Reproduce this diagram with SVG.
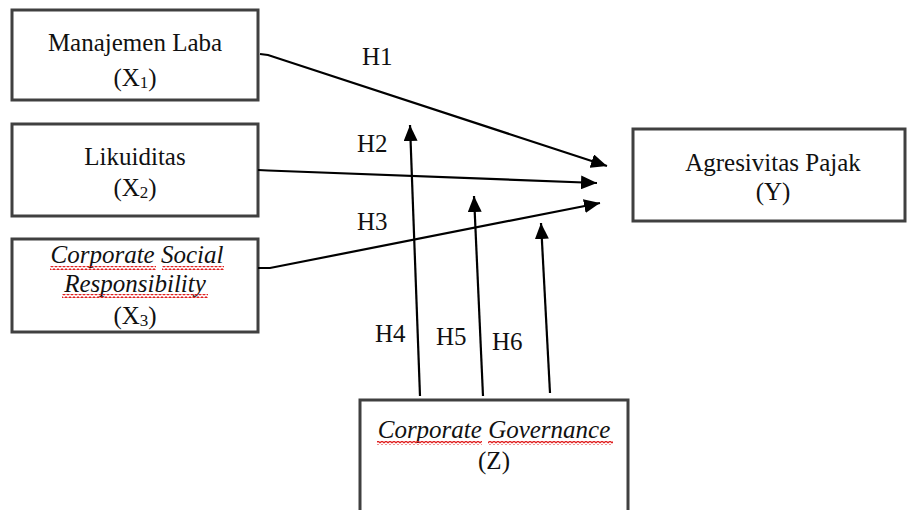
<svg xmlns="http://www.w3.org/2000/svg" width="907" height="510" viewBox="0 0 907 510">
<style>
.box{fill:#fff;stroke:#404040;stroke-width:3}
.t{font-family:"Liberation Serif","Times New Roman",serif;font-size:25px;fill:#111;text-anchor:middle}
.i{font-style:italic}
.lbl{font-family:"Liberation Serif","Times New Roman",serif;font-size:25px;fill:#111}
.c{fill:none;stroke:#000;stroke-width:2.2;marker-end:url(#ah)}
.sq{fill:url(#wave)}
</style>
<defs>
<marker id="ah" markerUnits="userSpaceOnUse" markerWidth="18" markerHeight="14" refX="16" refY="7" orient="auto">
<path d="M0,0 L16,7 L0,14 Z" fill="#000"/>
</marker>
<pattern id="wave" patternUnits="userSpaceOnUse" width="4" height="4">
<path d="M0,3 L2,1 L4,3" fill="none" stroke="#e02020" stroke-width="1.3"/>
</pattern>
</defs>
<g id="node-x1">
<rect class="box" x="12" y="10" width="246" height="90"/>
<text class="t" x="135" y="51">Manajemen Laba</text>
<text class="t" x="135" y="86">(X<tspan font-size="17" dy="2">1</tspan><tspan dy="-2">)</tspan></text>
</g>
<g id="node-x2">
<rect class="box" x="12" y="124" width="246" height="92"/>
<text class="t" x="135" y="165">Likuiditas</text>
<text class="t" x="135" y="196">(X<tspan font-size="17" dy="2">2</tspan><tspan dy="-2">)</tspan></text>
</g>
<g id="node-x3">
<rect class="box" x="12" y="239" width="246" height="93"/>
<text class="t i" x="137" y="263">Corporate Social</text>
<rect class="sq" x="50" y="266" width="106" height="4"/>
<rect class="sq" x="162" y="266" width="62" height="4"/>
<text class="t i" x="135" y="292">Responsibility</text>
<rect class="sq" x="62" y="294" width="146" height="4"/>
<text class="t" x="135" y="324">(X<tspan font-size="17" dy="2">3</tspan><tspan dy="-2">)</tspan></text>
</g>
<g id="node-y">
<rect class="box" x="633" y="129" width="272" height="92"/>
<text class="t" x="773" y="171">Agresivitas Pajak</text>
<text class="t" x="773" y="200">(Y)</text>
</g>
<g id="node-z">
<rect class="box" x="360" y="400" width="268" height="120"/>
<text class="t i" x="494" y="438">Corporate Governance</text>
<rect class="sq" x="377" y="441" width="105" height="4"/>
<rect class="sq" x="488" y="441" width="125" height="4"/>
<text class="t" x="494" y="469">(Z)</text>
</g>
<g id="connectors">
<polyline class="c" points="260,54 268,55 607,166"/>
<polyline class="c" points="258,170 268,170.5 597,183"/>
<polyline class="c" points="258,268 270,268 600,203"/>
<line class="c" x1="420" y1="396" x2="410" y2="125"/>
<line class="c" x1="483" y1="396" x2="474" y2="196"/>
<line class="c" x1="550" y1="393" x2="541" y2="223"/>
<text class="lbl" x="362" y="65">H1</text>
<text class="lbl" x="357" y="152">H2</text>
<text class="lbl" x="357" y="230">H3</text>
<text class="lbl" x="375" y="342">H4</text>
<text class="lbl" x="436" y="345">H5</text>
<text class="lbl" x="492" y="350">H6</text>
</g>
</svg>
